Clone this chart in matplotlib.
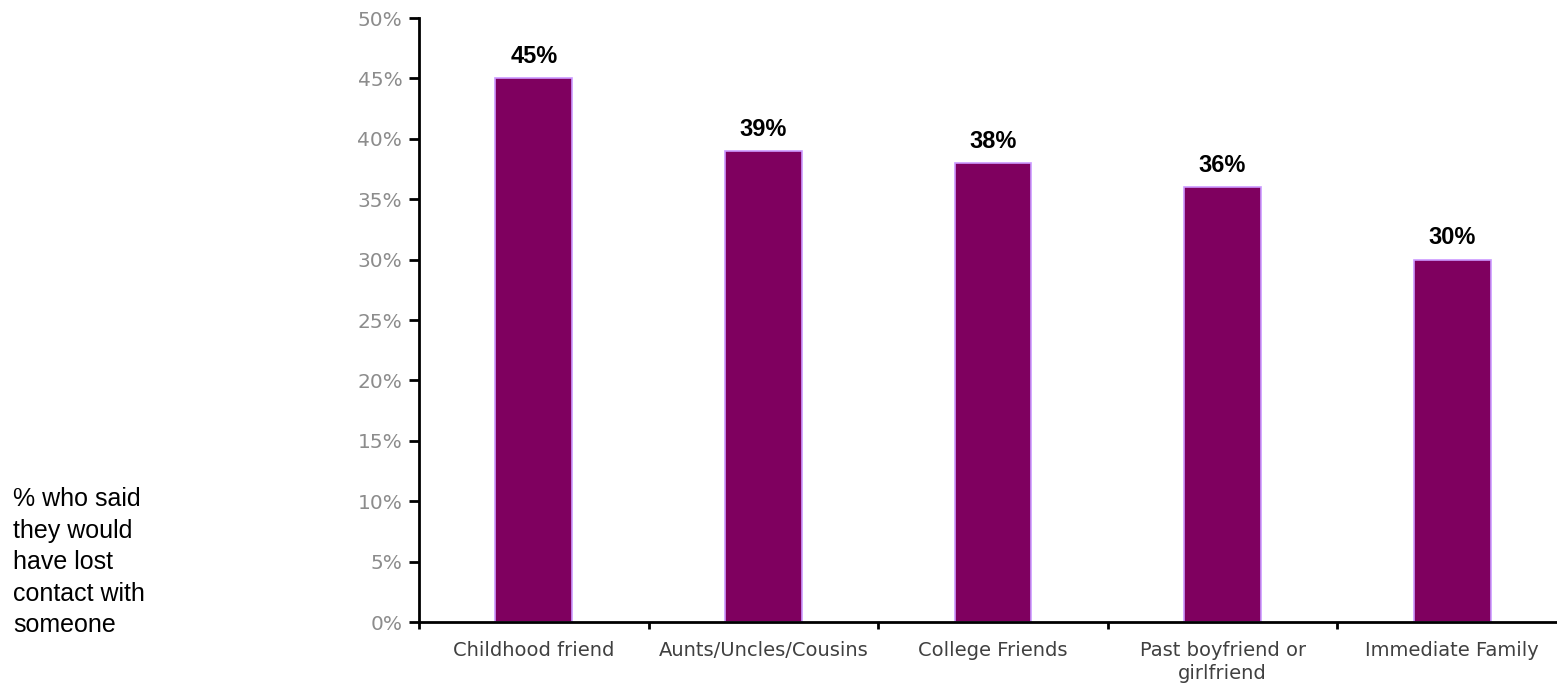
import matplotlib.pyplot as plt
import numpy as np
from matplotlib.ticker import FuncFormatter, FixedLocator


categories = ["Childhood friend", "Aunts/Uncles/Cousins", "College Friends",
              "Past boyfriend or\ngirlfriend", "Immediate Family"]
values = [45, 39, 38, 36, 30]
y_ticks = list(range(0, 55, 5))
side_note = "% who said\nthey would\nhave lost\ncontact with\nsomeone"


def main() -> None:
    fig = plt.figure(figsize=(15.57, 6.9), dpi=100)
    # axes deliberately runs a little past the right edge, as in the original
    ax = fig.add_axes([419 / 1557, 68 / 690, 1148 / 1557, 604 / 690])

    x = np.arange(len(categories))
    ax.bar(x, values, width=0.335, color="#7f005f", edgecolor="#cc99ff", linewidth=1.2)

    for xi, v in zip(x, values):
        ax.text(xi, v + 1.25, f"{v}%", ha="center", va="baseline",
                fontsize=17, fontweight="bold", family="Liberation Sans")

    ax.set_xlim(-0.5, len(categories) - 0.5)
    ax.set_ylim(0, 50)
    ax.set_yticks(y_ticks)
    ax.yaxis.set_major_formatter(FuncFormatter(lambda v, _: f"{v:.0f}%"))
    ax.tick_params(axis="y", direction="out", length=7, width=2,
                   labelsize=14.5, labelcolor="#8c8c8c", pad=5)

    # category labels sit between boundary ticks
    ax.xaxis.set_major_locator(FixedLocator(np.arange(-0.5, len(categories), 1.0)))
    ax.xaxis.set_major_formatter(FuncFormatter(lambda v, _: ""))
    ax.xaxis.set_minor_locator(FixedLocator(x))
    ax.set_xticklabels(categories, minor=True, linespacing=1.27)
    ax.tick_params(axis="x", which="major", direction="out", length=5, width=2)
    ax.tick_params(axis="x", which="minor", length=0, pad=14,
                   labelsize=14, labelcolor="#404040")

    for side in ("top", "right"):
        ax.spines[side].set_visible(False)
    for side in ("left", "bottom"):
        ax.spines[side].set_linewidth(2)

    fig.text(13 / 1557, 1 - 487 / 690, side_note, ha="left", va="top",
             fontsize=18, family="Liberation Sans", linespacing=1.4)

    fig.savefig("out.png", dpi=100)


if __name__ == "__main__":
    main()
